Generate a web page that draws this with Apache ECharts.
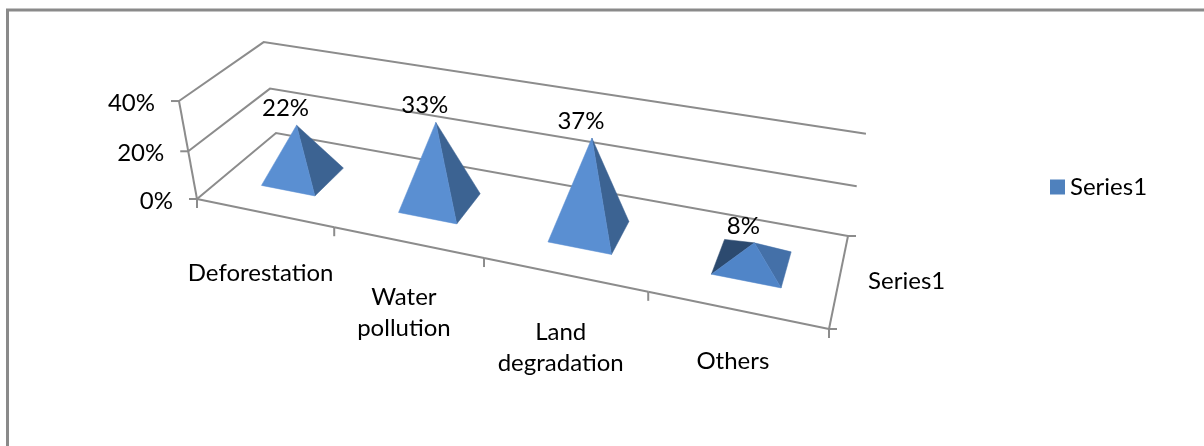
<!DOCTYPE html>
<html>
<head>
<meta charset="utf-8">
<style>html,body{margin:0;padding:0;background:#fff}#chart{width:1204px;height:446px}</style>
<script src="https://cdn.jsdelivr.net/npm/echarts@6/dist/echarts.min.js"></script>
</head>
<body>
<div id="chart"></div>
<script>
// Chart data
const categories = ['Deforestation', 'Water pollution', 'Land degradation', 'Others'];
const seriesName = 'Series1';
const seriesValues = [22, 33, 37, 8];
const valueTicks = [0, 20, 40];

// Room taken by each wrapped category label below the front axis
const labelDrops = [60, 70, 73, 51];

const FONT = 'Lato, Carlito, sans-serif';
const FONT_SIZE = 24;
const LINE = '#8C8C8C';
const LINE_W = 2;
const BASE_SHARE = 0.4; // share of a category band (and of the depth) filled by a base

// Corners of the floor in the 3D view: front-left, front-right, back-right, back-left
const FLOOR = [[197, 199], [829, 329], [848, 236], [276, 133]];
// Homogeneous screen direction of a full-height step up the value axis
const RISE = [-27.09, -103.1, -0.0508];

// Projective camera built from the floor corners
const camera = (function () {
  const [p0, p1, p2, p3] = FLOOR;
  const dx1 = p1[0] - p2[0], dx2 = p3[0] - p2[0], sx = p0[0] - p1[0] + p2[0] - p3[0];
  const dy1 = p1[1] - p2[1], dy2 = p3[1] - p2[1], sy = p0[1] - p1[1] + p2[1] - p3[1];
  const den = dx1 * dy2 - dx2 * dy1;
  const g = (sx * dy2 - dx2 * sy) / den;
  const h = (dx1 * sy - sx * dy1) / den;
  return {
    a: p1[0] * (g + 1) - p0[0], b: p3[0] * (h + 1) - p0[0], c: p0[0],
    d: p1[1] * (g + 1) - p0[1], e: p3[1] * (h + 1) - p0[1], f: p0[1],
    g: g, h: h
  };
})();

// u: along the categories, v: into the depth, t: share of the value axis (all 0..1)
function project(u, v, t) {
  const c = camera;
  const w = c.g * u + c.h * v + 1 + RISE[2] * t;
  return [
    (c.a * u + c.b * v + c.c + RISE[0] * t) / w,
    (c.d * u + c.e * v + c.f + RISE[1] * t) / w
  ];
}

// Turns a position on the library's axes into normalised view coordinates
function viewCoord(params, api, catIndex, value) {
  const rect = params.coordSys;
  const pt = api.coord([catIndex, value]);
  return {
    u: (pt[0] - rect.x) / rect.width,
    t: (rect.y + rect.height - pt[1]) / rect.height,
    band: api.size([1, 0])[0] / rect.width
  };
}

function seg(a, b, extra) {
  return {
    type: 'line',
    shape: { x1: a[0], y1: a[1], x2: b[0], y2: b[1] },
    style: Object.assign({ stroke: LINE, lineWidth: LINE_W }, extra || {})
  };
}

function text(str, x, y, align) {
  return {
    type: 'text',
    style: {
      text: str, x: x, y: y, align: align || 'center', verticalAlign: 'middle',
      fontFamily: FONT, fontSize: FONT_SIZE, lineHeight: 31, fill: '#000'
    }
  };
}

// Gridlines on the left and back walls, value ticks and value labels
function renderWall(params, api) {
  const v = viewCoord(params, api, 0, api.value(1));
  const fl = project(0, 0, v.t), bl = project(0, 1, v.t), br = project(1, 1, v.t);
  return {
    type: 'group',
    children: [
      { type: 'polyline', shape: { points: [fl, bl, br] }, style: { fill: 'none', stroke: LINE, lineWidth: LINE_W } },
      seg([fl[0] - 8, fl[1]], fl),
      text(api.value(1) + '%', fl[0] - 24, fl[1] + 2, 'right')
    ]
  };
}

// Front axis segment, tick and name of one category
function renderFloor(params, api) {
  const i = api.value(0);
  const v = viewCoord(params, api, i, 0);
  const from = project(v.u - v.band / 2, 0, 0);
  const to = project(v.u + v.band / 2, 0, 0);
  const mid = project(v.u, 0, 0);
  const kids = [
    seg(from, to),
    seg(to, [to[0], to[1] + 9]),
    text(categories[i].replace(' ', '\n'), mid[0] - 3.5, mid[1] + labelDrops[i])
  ];
  if (i === 0) {
    // Value axis upright plus the tick under its foot
    kids.push(seg(from, project(0, 0, 1)), seg(from, [from[0], from[1] + 9]));
  }
  if (i === categories.length - 1) {
    // Depth axis on the right side of the floor with its ticks and name
    const back = project(1, 1, 0);
    const halfway = project(1, 0.5, 0);
    kids.push(
      seg(to, back),
      seg(to, [to[0] + 8, to[1]]),
      seg(back, [back[0] + 8, back[1]]),
      text(seriesName, halfway[0] + 29, halfway[1] + 2, 'left')
    );
  }
  return { type: 'group', children: kids };
}

// One pyramid: only the faces turned towards the viewer get drawn
function renderPyramid(params, api) {
  const i = api.value(0);
  const val = api.value(1);
  const v = viewCoord(params, api, i, val);
  const du = v.band * BASE_SHARE / 2, dv = BASE_SHARE / 2;
  const fl = project(v.u - du, 0.5 - dv, 0), fr = project(v.u + du, 0.5 - dv, 0);
  const br = project(v.u + du, 0.5 + dv, 0), bl = project(v.u - du, 0.5 + dv, 0);
  const apex = project(v.u, 0.5, v.t);
  // Low pyramids catch more light on their sloping sides
  const low = val < 10;
  const faces = [
    [bl, fl, '#2C4A6F'],
    [br, bl, '#2C4A6F'],
    [fr, br, low ? '#4470A8' : '#3C6392'],
    [fl, fr, low ? '#5085C8' : '#5A8FD2']
  ];
  const kids = [];
  faces.forEach(function (f) {
    const ax = f[1][0] - f[0][0], ay = f[1][1] - f[0][1];
    const bx = apex[0] - f[0][0], by = apex[1] - f[0][1];
    if (ax * by - ay * bx < 0) {
      kids.push({
        type: 'polygon',
        shape: { points: [f[0], f[1], apex] },
        style: { fill: f[2], stroke: f[2], lineWidth: 0.5 }
      });
    }
  });
  kids.push(text(val + '%', apex[0] - 11, apex[1] - 17));
  return { type: 'group', children: kids };
}

const chart = echarts.init(document.getElementById('chart'));
chart.setOption({
  animation: false,
  backgroundColor: '#fff',
  tooltip: { show: false },
  grid: { left: FLOOR[0][0], top: 101, width: FLOOR[1][0] - FLOOR[0][0], height: 98 },
  xAxis: { type: 'category', data: categories, show: false },
  yAxis: { type: 'value', min: 0, max: 40, interval: 20, show: false },
  legend: {
    data: [seriesName],
    left: 1045, top: 170,
    itemWidth: 15, itemHeight: 15, itemGap: 6,
    icon: 'rect',
    textStyle: { fontFamily: FONT, fontSize: FONT_SIZE, color: '#000', padding: [0, 0, 0, 0] }
  },
  // Outer border of the chart area: only its top and left edges fall on the page
  graphic: [{
    type: 'polyline', silent: true,
    shape: { points: [[7.5, 446], [7.5, 10], [1204, 10]] },
    style: { fill: 'none', stroke: '#8A8A8A', lineWidth: 3 }
  }],
  series: [
    { type: 'custom', name: 'walls', silent: true, clip: false, z: 1,
      renderItem: renderWall, data: valueTicks.map(function (t) { return [0, t]; }) },
    { type: 'custom', name: 'floor', silent: true, clip: false, z: 1,
      renderItem: renderFloor, data: categories.map(function (c, i) { return [i, 0]; }) },
    { type: 'custom', name: seriesName, silent: true, clip: false, z: 2,
      itemStyle: { color: '#4F81BD' },
      renderItem: renderPyramid, data: seriesValues.map(function (v, i) { return [i, v]; }) }
  ]
});
</script>
</body>
</html>
